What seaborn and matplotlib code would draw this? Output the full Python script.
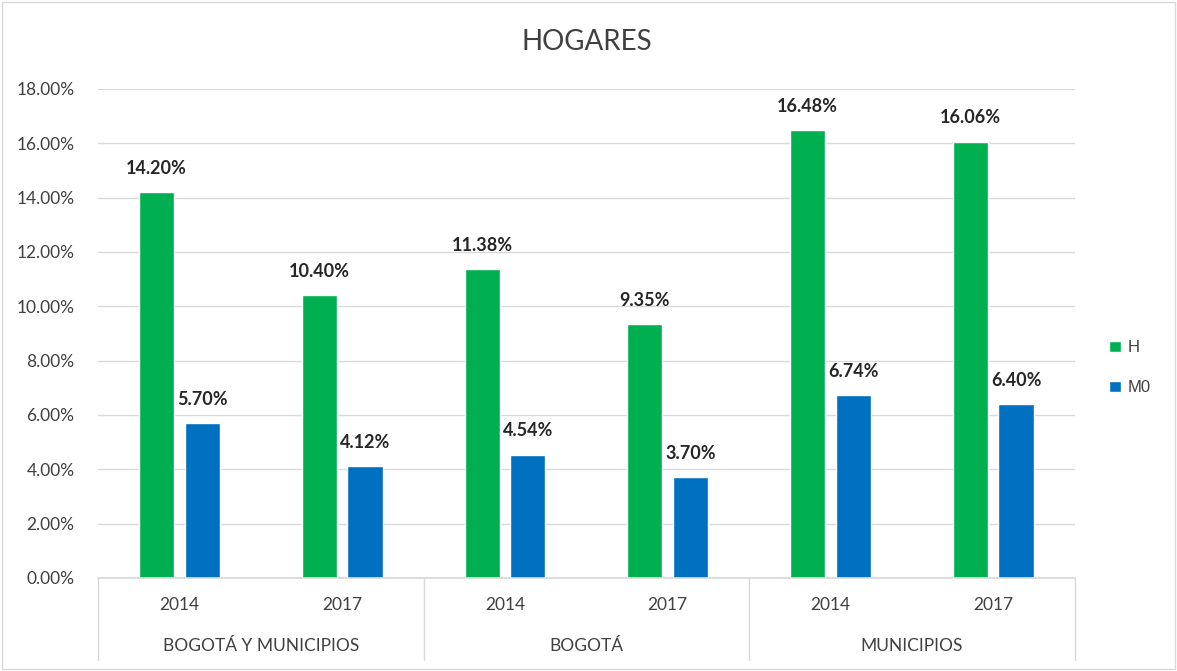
import matplotlib
matplotlib.use("Agg")
import matplotlib.pyplot as plt
import matplotlib.ticker as mticker
import matplotlib.transforms as mtrans
from matplotlib.patches import Rectangle
import seaborn as sns
import pandas as pd

groups = ["BOGOTÁ Y MUNICIPIOS", "BOGOTÁ", "MUNICIPIOS"]
years = ["2014", "2017"]
series = ["H", "M0"]
h_values = [14.20, 10.40, 11.38, 9.35, 16.48, 16.06]
m0_values = [5.70, 4.12, 4.54, 3.70, 6.74, 6.40]
colors = {"H": "#00B050", "M0": "#0070C0"}

slots = [f"{g}|{y}" for g in groups for y in years]
df = pd.DataFrame({
    "slot": slots * 2,
    "serie": ["H"] * 6 + ["M0"] * 6,
    "valor": h_values + m0_values,
})

sns.set_theme(style="white")
plt.rcParams["font.family"] = ["Lato", "DejaVu Sans"]
text_color = "#404040"

fig = plt.figure(figsize=(11.77, 6.71), dpi=100)
ax = fig.add_axes([0.0833, 0.1386, 0.8297, 0.7288])

sns.barplot(data=df, x="slot", y="valor", hue="serie", order=slots,
            hue_order=series, palette=colors, width=0.56, gap=0.23,
            saturation=1, ax=ax, legend=True)

ax.set_ylim(0, 18)
ax.set_xlim(-0.5, 5.5)
ax.yaxis.set_major_locator(mticker.MultipleLocator(2))
ax.yaxis.set_major_formatter(mticker.FuncFormatter(lambda v, p: f"{v:.2f}%"))
ax.grid(axis="y", color="#d9d9d9", linewidth=1)
ax.set_axisbelow(True)
for s in ["top", "right", "left"]:
    ax.spines[s].set_visible(False)
ax.spines["bottom"].set_color("#d9d9d9")
ax.tick_params(axis="y", length=0, labelsize=12.5, labelcolor=text_color, pad=17)
ax.tick_params(axis="x", length=0)
ax.set_xticklabels([])
ax.set_xlabel("")
ax.set_ylabel("")

# data labels
for cont in ax.containers:
    ax.bar_label(cont, labels=[f"{v:.2f}%" for v in cont.datavalues],
                 padding=11, fontsize=13, fontweight="bold", color="#262626")

# two-level category axis
trans = mtrans.blended_transform_factory(ax.transData, ax.transAxes)
for i, s in enumerate(slots):
    g, y = s.split("|")
    ax.text(i, -0.055, y, transform=trans, ha="center", va="center",
            fontsize=12.5, color=text_color)
for gi, g in enumerate(groups):
    ax.text(gi * 2 + 0.5, -0.14, g, transform=trans, ha="center", va="center",
            fontsize=12.5, color=text_color)
for b in [-0.5, 1.5, 3.5, 5.5]:
    ax.plot([b, b], [0, -0.168], transform=trans, color="#d9d9d9",
            linewidth=1, clip_on=False)

ax.set_title("HOGARES", fontsize=20, color=text_color, pad=28)

leg = ax.legend(loc="center left", bbox_to_anchor=(1.02, 0.43), frameon=False,
                prop={"family": ["Liberation Sans"], "size": 12},
                handlelength=0.7, handleheight=0.7,
                handletextpad=0.4, labelspacing=1.5)
for t in leg.get_texts():
    t.set_color(text_color)

fig.patches.append(Rectangle((0.002, 0.003), 0.996, 0.994, transform=fig.transFigure,
                             fill=False, edgecolor="#d9d9d9", linewidth=1))

fig.savefig("out.png", dpi=100, facecolor="white")
